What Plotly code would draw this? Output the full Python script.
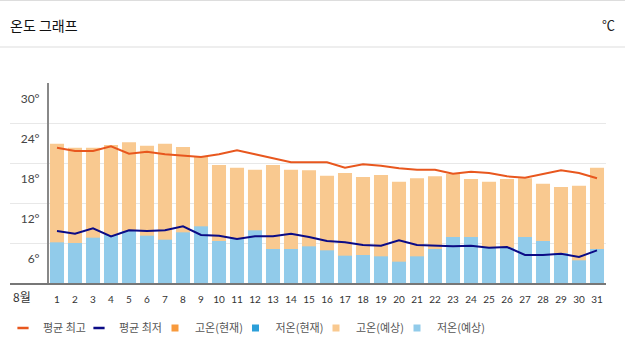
import plotly.graph_objects as go

days = list(range(1, 32))
day_labels = [str(d) for d in days]

# forecast bars (°C)
high_forecast = [20.9, 20.3, 20.3, 20.7, 21.1, 20.6, 20.9, 20.4, 18.9, 17.7,
                 17.3, 17.0, 17.7, 17.0, 16.9, 16.1, 16.5, 15.9, 16.2, 15.2,
                 15.7, 16.0, 16.4, 15.6, 15.2, 15.6, 15.7, 14.9, 14.4, 14.6, 17.3]
low_forecast = [6.1, 6.0, 6.8, 7.2, 7.8, 7.1, 6.5, 7.6, 8.5, 6.3,
                6.6, 7.9, 5.1, 5.1, 5.5, 4.9, 4.1, 4.2, 4.0, 3.2,
                4.0, 5.1, 6.9, 6.9, 5.4, 5.3, 6.9, 6.3, 4.5, 3.4, 5.1]
# climatological averages (°C)
avg_high = [20.3, 19.8, 19.8, 20.5, 19.4, 19.7, 19.3, 19.1, 18.9, 19.3,
            19.9, 19.3, 18.7, 18.1, 18.1, 18.1, 17.3, 17.8, 17.6, 17.2,
            17.0, 17.0, 16.4, 16.7, 16.5, 16.0, 15.8, 16.3, 16.9, 16.5, 15.7]
avg_low = [7.8, 7.4, 8.2, 7.0, 7.9, 7.8, 7.9, 8.5, 7.2, 7.1,
           6.6, 7.0, 7.0, 7.4, 6.9, 6.3, 6.1, 5.7, 5.6, 6.4,
           5.7, 5.6, 5.5, 5.6, 5.3, 5.4, 4.2, 4.2, 4.4, 3.9, 4.9]

y_ticks = [6, 12, 18, 24, 30]
y_tick_labels = ["6°", "12°", "18°", "24°", "30°"]

C_HIGH_LINE = "#e8571e"
C_LOW_LINE = "#0b0b86"
C_HIGH_NOW = "#f89a3c"
C_LOW_NOW = "#2c9fd9"
C_HIGH_FC = "#f9c990"
C_LOW_FC = "#91cbea"

KFONT = "Noto Sans CJK KR"

W, H = 625, 355
L, R, T, B = 10, 19, 83, 72
pw = W - L - R
ph = H - T - B
x_lo = 0.5 - (48 - L) / 18.0
x_hi = 31.5


def py(px):
    return 1 - (px - T) / ph


def pxx(px):
    return (px - L) / pw


fig = go.Figure()

fig.add_trace(go.Bar(x=days, y=high_forecast, marker_color=C_HIGH_FC,
                     marker_line_width=0, showlegend=False))
fig.add_trace(go.Bar(x=days, y=low_forecast, marker_color=C_LOW_FC,
                     marker_line_width=0, showlegend=False))
fig.add_trace(go.Scatter(x=days, y=avg_high, mode="lines",
                         line=dict(color=C_HIGH_LINE, width=2),
                         showlegend=False))
fig.add_trace(go.Scatter(x=days, y=avg_low, mode="lines",
                         line=dict(color=C_LOW_LINE, width=2),
                         showlegend=False))

# legend entries, each in its own legend box
legend_items = [
    ("평균 최고", "line-ew", C_HIGH_LINE),
    ("평균 최저", "line-ew", C_LOW_LINE),
    ("고온(현재)", "square", C_HIGH_NOW),
    ("저온(현재)", "square", C_LOW_NOW),
    ("고온(예상)", "square", C_HIGH_FC),
    ("저온(예상)", "square", C_LOW_FC),
]
legend_symbol_px = [27, 103, 179, 259.5, 340, 421]

legend_layouts = {}
for i, ((name, sym, col), sx) in enumerate(zip(legend_items, legend_symbol_px)):
    key = "legend" if i == 0 else f"legend{i + 1}"
    if sym == "line-ew":
        mk = dict(symbol=sym, size=8, line=dict(color=col, width=2.5))
    else:
        mk = dict(symbol=sym, size=7, color=col, line=dict(width=0))
    fig.add_trace(go.Scatter(x=[None], y=[None], mode="markers", name=name,
                             marker=mk, legend=key, showlegend=True))
    legend_layouts[key] = dict(
        orientation="h", x=pxx(sx - 24), xanchor="left", y=py(328),
        yanchor="middle", font=dict(family=KFONT, size=11, color="#555555"),
        itemclick=False, itemdoubleclick=False, bgcolor="rgba(0,0,0,0)")

fig.update_layout(
    width=W, height=H,
    margin=dict(l=L, r=R, t=T, b=B, autoexpand=False),
    paper_bgcolor="white", plot_bgcolor="white",
    barmode="overlay", bargap=0.22,
    xaxis=dict(range=[x_lo, x_hi], tickmode="array", tickvals=days,
               ticktext=day_labels, showgrid=False, zeroline=False,
               showline=True, linecolor="#777777", linewidth=2,
               ticks="", ticklabelstandoff=6,
               tickfont=dict(family="Lato, Noto Sans", size=10, color="#333333"),
               fixedrange=True),
    yaxis=dict(range=[0, 30], tickmode="array", tickvals=y_ticks,
               ticktext=y_tick_labels, anchor="free",
               position=(48 - L) / pw, showgrid=True, gridcolor="#e8e8e8",
               gridwidth=1, zeroline=False, showline=True,
               linecolor="#888888", linewidth=2, ticks="",
               ticklabelshift=16, ticklabelstandoff=5,
               tickfont=dict(family="Lato, Noto Sans", size=12, color="#444444"),
               fixedrange=True),
    showlegend=True,
    shapes=[
        dict(type="line", xref="paper", yref="paper", x0=-L / pw, x1=1 + R / pw,
             y0=py(0.5), y1=py(0.5), line=dict(color="#dddddd", width=1)),
        dict(type="line", xref="paper", yref="paper", x0=-L / pw, x1=1 + R / pw,
             y0=py(47), y1=py(47), line=dict(color="#dddddd", width=1)),
    ],
    annotations=[
        dict(text="온도 그래프", xref="paper", yref="paper", x=pxx(8),
             y=py(25), xanchor="left", yanchor="middle", showarrow=False,
             font=dict(family=KFONT, size=14, color="#111111")),
        dict(text="℃", xref="paper", yref="paper", x=pxx(617),
             y=py(25), xanchor="right", yanchor="middle", showarrow=False,
             font=dict(family=KFONT, size=13, color="#222222")),
        dict(text="8월", xref="paper", yref="paper", x=pxx(22),
             y=py(296), xanchor="center", yanchor="middle", showarrow=False,
             font=dict(family=KFONT, size=12, color="#333333")),
    ],
    **legend_layouts,
)

fig.write_html("out.html", config={"displayModeBar": False},
               post_script="document.body.style.margin='0';")
